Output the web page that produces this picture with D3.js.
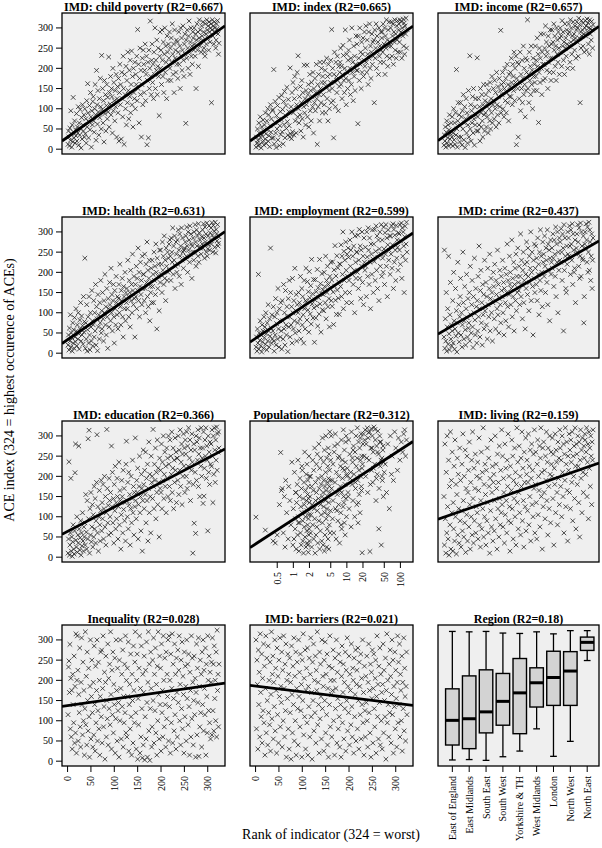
<!DOCTYPE html>
<html><head><meta charset="utf-8">
<script src="https://cdn.jsdelivr.net/npm/d3@7/dist/d3.min.js"></script>
<style>html,body{margin:0;padding:0;background:#fff}svg{display:block}</style>
</head><body>
<script>
const panelTitles = ["IMD: child poverty (R2=0.667)", "IMD: index (R2=0.665)", "IMD: income (R2=0.657)",
  "IMD: health (R2=0.631)", "IMD: employment (R2=0.599)", "IMD: crime (R2=0.437)",
  "IMD: education (R2=0.366)", "Population/hectare (R2=0.312)", "IMD: living (R2=0.159)",
  "Inequality (R2=0.028)", "IMD: barriers (R2=0.021)", "Region (R2=0.18)"];
const fitIntercepts = [29.8, 30.0, 30.8, 33.4, 36.7, 55.0, 63.7, 93.4, 98.5, 137.5, 186.0];
const fitSlopes = [0.817, 0.815, 0.811, 0.794, 0.774, 0.661, 0.605, 86.2, 0.399, 0.165, -0.142];
const ranks = d3.range(1, 325);
const yTicks = [0, 50, 100, 150, 200, 250, 300];
const xTicks = [0, 50, 100, 150, 200, 250, 300];
const logTicks = [0.5, 1, 2, 5, 10, 20, 50, 100];

const yChildPoverty = [12,45,30,8,52,22,95,38,5,60,18,128,42,28,70,15,48,33,
88,20,55,40,105,10,65,35,98,50,3,78,25,110,60,45,85,30,
100,38,75,15,120,55,162,90,28,68,108,48,140,80,5,95,60,118,
130,70,42,100,160,85,22,195,110,62,145,92,35,125,78,175,105,50,
232,98,150,65,120,18,170,88,135,45,108,160,75,128,92,228,55,140,
112,180,85,150,130,40,200,95,165,120,70,145,105,185,30,125,155,90,
175,20,140,210,110,160,25,190,125,80,230,150,12,185,135,100,205,60,
170,115,240,145,75,195,130,220,90,160,243,110,180,55,200,140,125,215,
100,185,160,230,120,296,150,210,65,175,250,135,195,30,160,225,110,245,
210,140,195,260,120,185,230,11,170,215,28,245,150,200,317,180,135,220,
260,165,210,125,240,185,300,150,220,195,270,135,205,250,180,83,230,290,
200,245,160,295,220,180,265,140,235,300,190,255,215,125,280,240,170,260,
225,290,200,250,170,275,215,310,235,185,260,140,295,225,245,190,270,210,
265,175,240,290,210,255,150,300,230,275,195,245,305,220,180,260,285,235,
64,270,225,295,250,200,280,317,240,185,265,300,230,255,210,290,275,245,
300,260,230,285,150,270,310,245,290,205,275,320,255,295,265,240,305,280,
270,315,290,250,240,230,310,285,260,320,295,275,305,245,315,290,265,300,
310,115,295,320,280,305,260,315,300,290,250,270,310,298,318,285,235,262];

const yIndex = [5,30,15,50,22,8,65,40,12,80,28,3,55,35,18,72,45,10,
60,25,90,38,14,70,48,100,20,85,33,6,58,110,42,75,27,95,
98,28,197,13,66,118,40,4,83,50,108,23,73,128,9,58,93,36,
73,133,43,98,13,118,61,143,28,83,108,51,153,68,35,123,93,58,
30,201,38,105,26,140,43,165,90,35,125,180,70,150,40,110,190,80,
231,100,65,130,85,155,45,115,170,75,140,30,105,208,90,125,60,145,
110,208,80,135,160,55,120,185,95,145,70,165,130,105,190,40,150,115,
175,95,140,210,125,12,160,105,185,135,70,215,150,115,200,165,90,180,
135,215,110,165,195,90,155,225,125,180,70,210,145,100,185,165,220,115,
296,150,200,120,28,185,240,165,105,215,180,140,230,170,95,205,155,190,
215,250,160,205,125,185,257,232,170,140,200,295,175,110,235,190,150,220,
245,170,270,200,135,225,160,300,190,215,120,255,180,230,145,210,280,195,
260,195,63,280,225,170,300,210,240,150,265,190,235,275,180,220,290,205,
250,305,215,190,270,235,160,290,225,310,200,255,175,240,285,210,265,230,
270,115,295,225,250,310,200,280,240,265,185,300,230,255,215,290,245,275,
290,240,310,215,260,300,185,280,250,320,230,270,205,295,255,315,225,265,
300,255,315,230,280,310,210,290,265,320,245,285,225,305,270,318,240,295,
310,265,320,240,290,315,225,300,280,322,255,312,235,305,285,324,250,296];

const yIncome = [10,35,20,55,5,42,70,15,28,60,8,48,85,25,38,12,65,30,
80,8,40,100,23,65,12,90,35,197,50,5,70,115,30,85,18,58,
115,30,80,10,95,50,135,23,65,105,4,75,125,40,90,15,60,145,
30,80,231,50,110,20,95,65,130,40,150,75,10,105,60,125,85,45,
226,80,45,125,60,105,20,150,90,55,135,70,30,110,160,85,45,120,
90,135,55,160,80,115,40,145,100,70,165,50,125,90,180,65,110,150,
120,75,170,100,140,55,190,110,85,155,130,65,175,105,145,294,90,160,
135,190,100,165,80,150,200,120,175,90,140,210,115,160,70,185,130,155,
190,130,225,165,110,210,180,145,240,120,200,165,230,11,175,215,150,30,
210,125,165,240,95,185,150,220,115,175,255,135,200,160,80,225,145,190,
220,320,150,185,115,240,170,205,135,255,160,195,100,225,180,145,210,165,
255,180,220,145,275,205,235,66,190,250,165,225,285,200,135,240,210,170,
285,210,250,175,305,230,265,195,240,150,280,215,255,190,295,225,170,260,
295,225,265,190,310,245,280,205,255,170,300,235,270,215,290,250,185,275,
300,240,280,205,318,255,290,220,265,185,310,250,275,230,295,260,200,285,
310,255,290,215,320,265,300,235,280,200,315,270,285,245,305,275,225,295,
315,265,300,230,324,275,308,115,290,250,318,280,295,255,312,285,240,300,
318,280,305,245,322,290,312,260,300,235,320,285,298,270,316,295,250,308];

const yHealth = [20,45,8,62,30,95,15,50,38,5,75,25,58,12,88,40,28,110,
55,18,70,35,100,48,10,82,60,125,30,92,45,68,22,140,52,78,
235,12,75,35,120,5,58,90,25,140,45,8,100,65,30,155,80,18,
70,130,40,100,55,170,20,115,85,6,145,65,95,35,125,75,180,50,
105,60,150,85,30,130,100,195,70,115,45,160,90,12,135,110,65,175,
120,80,210,100,145,55,130,170,90,25,155,110,70,190,125,95,140,60,
135,170,100,220,115,70,155,130,185,90,40,165,140,110,200,80,150,125,
160,110,230,140,90,180,150,65,205,130,170,100,245,155,120,190,135,40,
170,140,215,110,185,155,260,130,200,90,165,225,145,180,120,240,160,195,
195,130,245,160,100,220,175,275,140,205,115,185,230,80,165,150,210,125,
230,165,195,125,250,180,215,145,270,200,60,235,160,190,220,105,255,175,
255,195,220,150,275,205,240,170,290,185,230,130,260,215,180,250,200,235,
270,205,280,240,180,285,250,225,310,195,265,230,290,160,215,275,245,200,
280,220,305,255,190,295,240,265,170,310,230,285,250,210,255,260,235,275,
290,240,312,265,200,300,255,280,225,315,245,295,270,185,265,250,285,230,
300,250,318,275,215,305,265,290,240,320,225,298,280,260,262,245,288,270,
305,260,320,285,235,312,275,295,250,322,240,258,290,268,315,255,298,280,
310,270,323,292,250,316,285,302,262,324,248,306,295,278,318,265,272,288];

const yEmployment = [15,40,5,60,25,195,10,50,32,80,18,45,3,70,28,55,12,90,
38,65,22,100,48,8,75,30,120,55,15,85,42,260,62,25,95,35,
55,115,30,5,90,45,135,20,73,100,35,160,60,15,110,80,40,125,
55,10,130,80,35,170,60,100,20,155,70,45,115,90,4,135,65,180,
90,40,150,70,115,25,185,100,60,130,80,210,50,105,145,30,120,75,
100,150,55,125,85,190,35,115,160,70,140,95,25,180,110,60,130,210,
127,82,177,107,152,52,202,137,97,167,72,232,122,147,87,182,112,27,
132,182,87,152,117,207,67,162,137,97,232,122,172,52,147,197,107,157,
145,105,200,165,125,240,85,180,150,215,115,170,135,65,190,160,225,130,
181,116,226,151,71,206,166,266,131,191,96,241,156,211,136,176,96,221,
220,165,268,140,240,195,300,110,252,180,230,150,275,205,125,245,190,260,
237,180,150,280,215,255,125,300,195,240,170,265,205,100,290,225,185,250,
250,200,292,160,230,306,185,265,135,255,215,300,175,240,120,285,225,205,
262,215,140,300,238,190,310,255,170,285,225,110,270,245,195,305,233,150,
270,227,306,180,252,315,205,290,160,237,280,130,258,300,215,245,318,190,
280,235,200,312,258,170,298,245,318,215,285,140,268,305,230,255,290,195,
290,245,315,210,268,320,160,306,225,292,255,180,316,235,280,262,205,298,
295,255,318,220,277,322,185,310,240,300,265,150,288,314,230,270,324,250];

const yCrime = [40,255,12,85,30,150,5,65,110,22,240,48,8,95,175,35,70,18,
55,130,25,200,80,10,60,160,42,105,3,75,225,50,120,28,90,140,
185,45,100,15,70,250,125,35,80,165,58,20,110,195,88,40,135,62,
75,150,30,215,95,50,120,180,65,14,140,100,235,82,45,160,115,25,
130,55,190,90,265,110,40,155,205,75,125,20,170,95,145,60,230,105,
115,175,70,140,35,210,120,90,160,245,55,135,185,100,150,30,125,200,
165,85,220,130,60,180,145,110,255,95,170,50,135,205,120,75,190,155,
140,230,100,175,45,160,210,125,80,195,150,270,115,180,65,145,240,170,
200,120,160,280,90,185,140,225,55,170,210,130,245,105,190,150,260,175,
155,215,120,190,295,140,230,170,85,205,250,125,180,220,60,195,160,275,
225,145,260,190,105,240,175,210,300,130,200,250,165,45,230,185,270,150,
210,265,170,235,130,285,195,220,95,250,180,305,155,240,200,115,275,225,
245,190,290,215,150,260,230,175,305,120,270,205,255,80,235,280,195,225,
260,210,295,235,165,280,245,190,312,140,270,225,300,100,250,205,285,230,
275,225,308,250,180,295,260,55,318,205,285,240,160,150,265,220,300,245,
285,240,315,265,195,305,270,230,320,170,295,255,200,210,280,125,245,260,
295,250,318,275,215,310,185,240,322,190,300,265,235,230,290,75,140,270,
300,260,320,280,225,312,200,250,324,205,305,275,180,240,295,160,230,285];

const yEducation = [10,45,236,5,30,60,195,15,50,2,38,80,20,8,65,209,280,42,
25,100,12,55,35,275,70,18,48,90,5,60,28,110,40,15,75,50,
85,30,155,62,20,140,45,293,95,314,10,120,55,160,38,75,130,25,
105,50,175,70,145,35,90,185,303,60,125,15,100,165,80,40,115,190,
65,135,95,180,45,120,200,75,150,30,110,316,170,85,128,55,195,140,
100,160,60,275,125,210,85,145,35,180,115,225,70,135,95,195,150,45,
125,235,80,165,140,20,105,190,150,60,215,118,170,90,135,40,230,287,
140,100,185,70,210,130,155,30,120,200,85,145,240,110,175,55,160,125,
295,140,95,190,160,220,45,130,175,250,110,150,65,205,170,15,140,265,
180,120,215,155,260,85,195,140,230,40,170,285,110,205,150,60,250,185,
200,145,316,175,120,230,190,270,95,210,160,290,130,220,185,50,245,170,
215,160,280,120,235,190,300,145,205,260,175,225,110,270,195,245,150,300,
230,175,290,140,250,205,310,160,220,270,120,240,185,295,215,260,135,245,
245,190,300,155,265,215,315,175,235,280,130,255,200,305,225,270,160,290,
255,200,310,170,275,225,320,185,245,290,140,265,215,305,235,10,180,280,
84,265,210,59,300,190,285,240,315,175,255,295,150,270,225,320,200,245,
270,133,310,151,220,290,250,320,195,275,240,65,300,210,260,180,285,230,
280,225,315,250,135,300,205,320,265,185,290,240,322,215,305,260,310,270];

const popDensity = [0.2,0.3,0.42,0.46,0.5,
0.55,0.58,0.6,0.62,0.65,0.68,0.7,0.72,0.75,0.8,0.82,0.86,0.9,0.94,0.98,
1.0,1.03,1.05,1.08,1.1,1.1,1.13,1.15,1.18,1.2,1.22,1.25,1.27,1.3,1.3,1.33,1.36,1.38,1.4,1.42,
1.45,1.47,1.5,1.5,1.52,1.55,1.58,1.6,1.6,1.63,1.65,1.68,1.7,1.72,1.74,1.76,1.78,1.8,1.8,1.82,
1.84,1.85,1.87,1.88,1.9,1.9,1.92,1.93,1.95,1.96,1.97,1.98,1.99,2.0,2.0,1.12,1.24,1.44,1.66,1.86,
2.05,2.1,2.1,2.15,2.2,2.2,2.25,2.3,2.3,2.35,2.4,2.4,2.45,2.5,2.5,2.55,2.6,2.6,2.65,2.7,
2.7,2.75,2.8,2.8,2.85,2.9,2.95,3.0,3.0,3.05,3.1,3.1,3.2,3.2,3.25,3.3,3.3,3.4,3.4,3.45,
3.5,3.5,3.6,3.6,3.65,3.7,3.7,3.8,3.8,3.85,3.9,3.9,4.0,4.0,4.05,4.1,4.1,4.2,4.2,4.25,
4.3,4.3,4.4,4.4,4.45,4.5,4.5,4.55,4.6,4.6,4.65,4.7,4.7,4.75,4.8,4.8,4.85,4.9,4.95,5.0,
5.1,5.2,5.4,5.5,5.5,5.7,5.8,6.0,6.1,6.1,6.3,6.4,6.6,6.7,6.8,7.0,7.0,7.2,7.3,7.5,
7.6,7.7,7.9,8.0,8.0,8.2,8.3,8.5,8.6,8.7,8.9,9.0,9.0,9.2,9.3,9.4,9.6,9.7,9.8,9.9,
5.3,5.9,6.5,6.9,7.4,7.8,8.4,8.8,9.5,10.0,
10.2,10.5,10.8,11,11.3,11.6,12,12.2,12.5,12.8,13,13.3,13.6,14,14.2,14.5,14.8,15,15.3,15.6,
16,16.2,16.5,16.8,17,17.3,17.6,18,18.2,18.5,18.8,19,19.3,19.6,20,10.6,11.8,13.1,14.4,15.7,
16.4,17.9,18.6,19.2,12.7,
20.5,21,22,22.5,23,24,24.5,25,26,26.5,27,28,28.5,29,30,30.5,31,32,33,34,
35,36,37,38,39,40,41,42,43,44,45,46,47,48,49,50,21.5,23.5,25.5,27.5,
29.5,31.5,33.5,35.5,37.5,39.5,41.5,43.5,45.5,47.5,
52,55,58,62,65,70,74,78,82,88,92,98,104,110,115,120,125,130,68];
const yPopulation = [99,67,40,35,55,
130,259,165,170,60,150,25,190,110,45,175,140,80,235,30,
120,45,210,70,95,160,20,135,180,55,240,100,15,150,85,195,60,125,30,170,
110,215,40,90,145,10,185,75,130,260,50,100,165,25,205,140,65,115,230,35,
155,80,190,120,12,175,95,145,55,250,105,70,135,200,40,160,85,225,110,30,
150,60,200,105,25,175,130,240,80,165,45,215,120,270,95,10,185,140,55,230,
160,75,255,115,35,195,145,280,90,170,20,220,130,65,245,180,105,40,200,150,
295,85,160,30,235,125,190,15,265,110,175,55,210,140,300,95,165,25,245,120,
185,70,225,150,45,270,105,195,135,20,255,175,80,215,160,310,60,190,115,240,
300,170,95,230,140,60,260,185,120,305,45,210,155,280,90,200,130,250,35,175,
225,110,290,160,70,240,195,125,315,150,215,85,265,180,55,235,145,300,100,205,
190,275,115,245,165,80,220,135,285,200,
220,160,290,120,255,195,75,310,180,235,140,275,205,100,260,170,300,225,130,245,
190,85,285,215,155,270,110,240,200,305,165,250,11,230,280,150,210,265,185,320,
135,295,175,220,245,
305,250,315,200,280,320,160,295,240,310,14,270,318,215,300,185,260,322,230,290,
140,275,205,312,255,170,300,225,285,30,245,190,265,150,235,210,290,245,308,180,
270,220,316,195,260,70,285,240,200,275,
230,160,280,120,300,250,190,310,270,215,295,240,285,260,305,315,250,290,205];

const yLiving = [150,30,280,95,10,210,60,300,125,45,240,5,175,80,310,20,190,110,
260,15,135,70,225,40,290,100,180,8,155,245,55,205,120,35,270,90,
190,25,115,230,65,305,140,50,200,85,265,12,170,105,250,40,160,215,
75,285,130,20,185,100,240,55,310,145,35,220,90,170,255,60,125,200,
110,235,45,165,295,80,195,25,140,260,70,210,120,320,50,180,100,230,
155,30,215,90,270,135,60,245,175,10,195,115,290,75,160,225,40,185,
205,65,140,300,95,230,170,20,255,120,185,50,275,145,80,215,110,315,
130,250,75,195,160,35,280,105,220,140,60,240,175,305,90,200,125,15,
225,85,165,290,120,250,45,190,145,270,100,210,30,180,320,135,235,70,
160,275,110,200,55,245,175,310,90,220,140,25,260,185,125,295,65,205,
240,115,185,305,80,225,150,265,40,195,280,130,215,100,255,170,315,60,
180,260,135,45,230,290,105,200,165,275,75,245,320,150,210,20,270,125,
285,160,215,95,250,190,310,140,235,55,270,175,120,300,205,85,260,230,
200,295,145,255,30,220,180,305,110,265,235,160,80,285,195,245,130,315,
270,175,240,100,300,210,150,280,60,255,190,320,125,230,285,165,40,250,
215,305,160,265,120,290,235,185,310,90,250,200,275,145,320,225,70,280,
255,180,300,225,135,285,50,240,315,195,265,110,295,210,160,275,245,305,
290,205,260,320,150,235,280,95,310,220,270,175,300,250,130,285,240,315];

const yInequality = [115,233,248,170,289,80,205,60,175,30,215,140,95,260,45,185,70,315,
20,200,310,225,50,165,120,280,85,35,195,305,140,65,245,100,175,15,
130,320,90,210,40,270,150,75,230,110,10,185,300,55,160,250,120,35,
195,65,285,140,25,235,95,175,300,50,125,245,80,200,15,160,270,110,
275,45,180,310,85,135,220,5,195,260,60,150,105,290,40,205,130,240,
90,320,165,30,225,115,270,70,190,140,255,20,105,300,175,50,230,125,
145,10,250,100,300,180,55,215,135,275,35,160,95,240,120,310,70,200,
60,230,160,295,25,140,190,80,265,110,15,215,150,45,285,175,95,245,
320,120,30,200,265,5,155,90,230,310,20,180,60,285,130,8,215,40,
170,260,3,110,225,55,295,145,10,195,320,75,240,2,130,270,180,35,
85,250,150,305,45,215,125,280,70,190,15,235,100,320,165,55,260,140,
230,25,290,120,175,60,310,200,85,255,140,35,270,105,215,160,300,50,
310,135,200,20,265,95,180,315,45,240,155,75,290,115,215,30,255,170,
60,275,145,225,310,100,190,40,250,130,295,80,210,165,20,270,110,235,
185,50,300,155,240,90,265,135,15,220,175,60,310,105,255,195,40,150,
260,115,205,10,170,290,65,230,145,305,12,185,85,250,120,215,35,270,
140,300,75,225,180,115,280,15,240,160,70,310,200,125,260,95,220,55,
195,245,65,305,125,240,75,285,155,200,100,270,60,324,175,215,85,240];

const yBarriers = [300,80,250,190,30,275,140,220,60,315,170,110,265,45,205,125,290,95,
235,15,180,310,70,255,150,40,285,120,200,90,245,25,165,320,105,215,
260,55,195,135,300,75,230,175,20,280,115,210,45,250,160,305,85,185,
145,270,35,225,100,310,180,60,240,125,290,10,200,155,265,80,215,30,
255,120,195,5,285,165,70,235,140,305,50,210,100,270,15,180,245,130,
40,300,160,220,85,265,125,190,10,250,150,315,65,205,110,275,30,175,
230,95,280,15,185,135,255,60,215,305,110,170,5,245,150,290,75,200,
120,260,45,225,175,320,90,195,140,20,270,105,240,160,55,300,130,210,
185,25,250,150,295,70,215,115,265,40,180,10,235,140,310,85,200,165,
60,230,175,275,100,200,15,255,130,180,300,45,220,155,80,265,110,35,
245,140,10,210,285,95,170,240,55,195,130,270,25,225,150,305,75,185,
120,260,40,215,175,90,290,135,60,230,200,20,255,110,165,275,50,190,
225,80,280,150,30,245,185,115,265,55,205,140,300,95,170,15,235,125,
60,210,145,260,100,35,195,290,120,175,70,240,10,220,155,275,45,180,
265,130,85,205,250,20,160,310,110,190,55,235,145,280,40,215,100,170,
30,190,290,70,225,150,110,255,5,175,315,95,200,140,60,240,120,275,
210,45,165,300,115,250,20,185,135,270,80,225,155,35,195,310,95,245,
140,290,60,215,175,100,260,25,195,130,305,75,230,160,50,185,270,115];

const regionNames = ["East of England", "East Midlands", "South East", "South West", "Yorkshire & TH",
  "West Midlands", "London", "North West", "North East"];
const regionLow = [3, 4, 2, 11, 25, 80, 12, 49, 249];
const regionQ1 = [40, 31, 70, 89, 68, 134, 138, 138, 274];
const regionMedian = [101, 105, 122, 148, 169, 194, 207, 223, 294];
const regionQ3 = [179, 211, 226, 217, 254, 231, 272, 271, 307];
const regionHigh = [321, 320, 321, 317, 316, 320, 315, 323, 323];

const scatterY = [yChildPoverty, yIndex, yIncome, yHealth, yEmployment, yCrime, yEducation,
  yPopulation, yLiving, yInequality, yBarriers];

// ---------- layout ----------
const W = 602, H = 848;
const colX = [62, 250, 438], colW = [163, 163, 161];
const rowY = [13, 217, 421, 625], PH = 141;
const rankDomain = [-11.92, 336.92];
const logDomain = [0.155, 172];
const serif = "Liberation Serif, Tinos, Times New Roman, serif";

const svg = d3.select("body").append("svg").attr("width", W).attr("height", H)
  .attr("font-family", serif);

function txt(g) { return g.append("text").attr("font-family", serif).attr("fill", "#000"); }

function frame(i, col, row) {
  const x0 = colX[col], w = colW[col], y0 = rowY[row];
  const g = svg.append("g");
  g.append("clipPath").attr("id", "clip" + i).append("rect")
    .attr("x", x0).attr("y", y0).attr("width", w).attr("height", PH);
  g.append("rect").attr("x", x0).attr("y", y0).attr("width", w).attr("height", PH)
    .attr("fill", "#efefef");
  txt(g).attr("x", x0 + w / 2).attr("y", y0 - 2.5).attr("text-anchor", "middle")
    .attr("font-weight", "bold").attr("font-size", 12).text(panelTitles[i]);
  return {g, x0, w, y0};
}

function yAxis(g, ys, x0) {
  yTicks.forEach(v => {
    g.append("line").attr("x1", x0 - 6).attr("x2", x0).attr("y1", ys(v)).attr("y2", ys(v))
      .attr("stroke", "#000").attr("stroke-width", 1);
    txt(g).attr("x", x0 - 9).attr("y", ys(v) + 3.5).attr("text-anchor", "end")
      .attr("font-size", 10).text(v);
  });
}

function xAxisRot(g, positions, labels, yb) {
  positions.forEach((p, k) => {
    g.append("line").attr("x1", p).attr("x2", p).attr("y1", yb).attr("y2", yb + 6)
      .attr("stroke", "#000").attr("stroke-width", 1);
    txt(g).attr("transform", `translate(${p + 3.5},${yb + 10}) rotate(-90)`)
      .attr("text-anchor", "end").attr("font-size", 10).text(labels[k]);
  });
}

for (let i = 0; i < 11; i++) {
  const col = i % 3, row = Math.floor(i / 3);
  const {g, x0, w, y0} = frame(i, col, row);
  const isLog = i === 7;
  const xs = (isLog ? d3.scaleLog().domain(logDomain) : d3.scaleLinear().domain(rankDomain))
    .range([x0, x0 + w]);
  const ys = d3.scaleLinear().domain(rankDomain).range([y0 + PH, y0]);
  const yv = scatterY[i];
  const xv = isLog ? popDensity : ranks;
  const n = Math.min(yv.length, xv.length);
  const d = 2.3;
  let p = "";
  for (let k = 0; k < n; k++) {
    const px = xs(xv[k]), py = ys(yv[k]);
    p += `M${px - d},${py - d}L${px + d},${py + d}M${px - d},${py + d}L${px + d},${py - d}`;
  }
  g.append("path").attr("d", p).attr("fill", "none").attr("stroke", "#222")
    .attr("stroke-width", 0.8);
  const dom = xs.domain();
  const fit = x => isLog ? fitIntercepts[i] + fitSlopes[i] * Math.log10(x) : fitIntercepts[i] + fitSlopes[i] * x;
  g.append("line").attr("clip-path", `url(#clip${i})`)
    .attr("x1", xs(dom[0])).attr("y1", ys(fit(dom[0])))
    .attr("x2", xs(dom[1])).attr("y2", ys(fit(dom[1])))
    .attr("stroke", "#000").attr("stroke-width", 2.8);
  g.append("rect").attr("x", x0).attr("y", y0).attr("width", w).attr("height", PH)
    .attr("fill", "none").attr("stroke", "#000").attr("stroke-width", 1.3);
  if (col === 0) yAxis(g, ys, x0);
  if (row === 3) xAxisRot(g, xTicks.map(v => xs(v)), xTicks, y0 + PH);
  if (isLog) xAxisRot(g, logTicks.map(v => xs(v)), logTicks, y0 + PH);
}

// ---------- region boxplot ----------
{
  const {g, x0, w, y0} = frame(11, 2, 3);
  const xs = d3.scaleLinear().domain([0.15, 9.7]).range([x0, x0 + w]);
  const ys = d3.scaleLinear().domain(rankDomain).range([y0 + PH, y0]);
  const bw = xs(0.8) - xs(0), cw = bw / 2;
  regionNames.forEach((name, k) => {
    const cx = xs(k + 1);
    g.append("line").attr("x1", cx).attr("x2", cx).attr("y1", ys(regionHigh[k])).attr("y2", ys(regionQ3[k]))
      .attr("stroke", "#000").attr("stroke-width", 1.3);
    g.append("line").attr("x1", cx).attr("x2", cx).attr("y1", ys(regionQ1[k])).attr("y2", ys(regionLow[k]))
      .attr("stroke", "#000").attr("stroke-width", 1.3);
    [regionHigh[k], regionLow[k]].forEach(v => g.append("line")
      .attr("x1", cx - cw / 2).attr("x2", cx + cw / 2).attr("y1", ys(v)).attr("y2", ys(v))
      .attr("stroke", "#000").attr("stroke-width", 1.3));
    g.append("rect").attr("x", cx - bw / 2).attr("y", ys(regionQ3[k])).attr("width", bw)
      .attr("height", ys(regionQ1[k]) - ys(regionQ3[k])).attr("fill", "#d3d3d3")
      .attr("stroke", "#000").attr("stroke-width", 1.4);
    g.append("line").attr("x1", cx - bw / 2).attr("x2", cx + bw / 2)
      .attr("y1", ys(regionMedian[k])).attr("y2", ys(regionMedian[k]))
      .attr("stroke", "#000").attr("stroke-width", 3);
  });
  g.append("rect").attr("x", x0).attr("y", y0).attr("width", w).attr("height", PH)
    .attr("fill", "none").attr("stroke", "#000").attr("stroke-width", 1.3);
  xAxisRot(g, regionNames.map((_, k) => xs(k + 1)), regionNames, y0 + PH);
}

// ---------- axis titles ----------
txt(svg).attr("transform", "translate(14,390) rotate(-90)").attr("text-anchor", "middle")
  .attr("font-size", 14).text("ACE index (324 = highest occurence of ACEs)");
txt(svg).attr("x", 331).attr("y", 839).attr("text-anchor", "middle")
  .attr("font-size", 14).text("Rank of indicator (324 = worst)");
</script>
</body></html>
